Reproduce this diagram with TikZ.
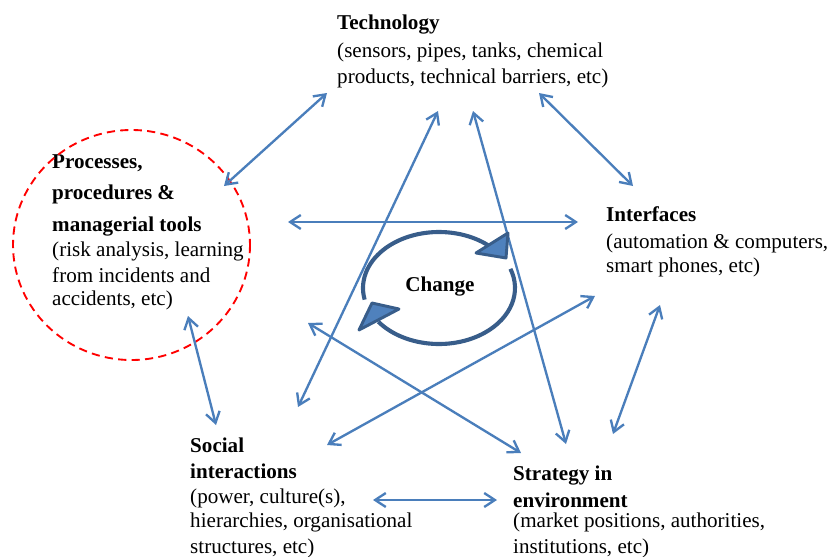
\documentclass[tikz,border=0pt]{standalone}
\usepackage{fontspec}
\setmainfont{Liberation Serif}
\usetikzlibrary{arrows.meta}
\definecolor{linkblue}{RGB}{74,126,187}
\definecolor{cycleblue}{RGB}{56,93,138}
\definecolor{cyclefill}{RGB}{79,129,189}

\begin{document}
\begin{tikzpicture}[x=0.03cm,y=-0.03cm,
        factor/.style={anchor=north west,inner sep=0pt,align=left,font=\fontsize{18}{22}\selectfont},
        link/.style={draw=linkblue,line width=2pt,{Straight Barb[length=3.2mm,width=4.2mm]}-{Straight Barb[length=3.2mm,width=4.2mm]}}]
        \useasboundingbox (0,0) rectangle (833,557);
        % the five factors
        \node[factor] (tech) at (337,15) {\textbf{Technology}\\[1.5pt](sensors, pipes, tanks, chemical\\products, technical barriers, etc)};
        \node[factor] (proc) at (52,154) {\textbf{Processes,}\\[5pt]\textbf{procedures \&}\\[5pt]\textbf{managerial tools}\\[-0.7pt](risk analysis, learning\\from incidents and\\[-2pt]accidents, etc)};
        \node[factor] (iface) at (606,206) {\textbf{Interfaces}\\[1pt](automation \& computers,\\[-1.5pt]smart phones, etc)};
        \node[factor] (social) at (190,438) {\textbf{Social}\\\textbf{interactions}\\[-0.7pt](power, culture(s),\\[-1.5pt]hierarchies, organisational\\structures, etc)};
        \node[factor] (strat) at (513,466) {\textbf{Strategy in}\\[1pt]\textbf{environment}\\[-5pt](market positions, authorities,\\institutions, etc)};
        \draw[red,line width=1.6pt,dash pattern=on 7pt off 4.5pt] (131.5,245) ellipse [x radius=118.5, y radius=115];

        % arrow ends
        \coordinate (tech-sw) at (327,93);   \coordinate (proc-ne) at (224,186);
        \coordinate (tech-se) at (539,93);   \coordinate (iface-nw) at (633,186);
        \coordinate (proc-e) at (288,222);   \coordinate (iface-w) at (578,222);
        \coordinate (proc-s) at (188,316);   \coordinate (social-n) at (216,425);
        \coordinate (iface-s) at (660,305);  \coordinate (strat-ne) at (613,434);
        \coordinate (social-e) at (373,500); \coordinate (strat-w) at (497,500);
        \coordinate (tech-s1) at (438,111);  \coordinate (social-ne) at (298,407);
        \coordinate (tech-s2) at (473,111);  \coordinate (strat-n) at (566,444);
        \coordinate (iface-sw) at (595,296); \coordinate (social-e2) at (327,445);
        \coordinate (proc-se) at (308,323);  \coordinate (strat-nw) at (521,453);

        \draw[link] (tech-sw) -- (proc-ne);
        \draw[link] (tech-se) -- (iface-nw);
        \draw[link] (proc-e) -- (iface-w);
        \draw[link] (proc-s) -- (social-n);
        \draw[link] (iface-s) -- (strat-ne);
        \draw[link] (social-e) -- (strat-w);
        \draw[link] (tech-s1) -- (social-ne);
        \draw[link] (tech-s2) -- (strat-n);
        \draw[link] (iface-sw) -- (social-e2);
        \draw[link] (proc-se) -- (strat-nw);

        % change cycle in the middle
        \fill[white] (439,288) ellipse [x radius=74, y radius=54];
        \draw[cycleblue,line width=3.5pt] (439,288) ++(-47:76 and 56) arc[start angle=-47, end angle=-192, x radius=76, y radius=56];
        \draw[cycleblue,line width=3.5pt] (439,288) ++(143:76 and 56) arc[start angle=143, end angle=-20, x radius=76, y radius=56];
        \filldraw[fill=cyclefill,draw=cycleblue,line width=2.5pt,line join=round] (508,233) -- (476,253) -- (506,258) -- cycle;
        \filldraw[fill=cyclefill,draw=cycleblue,line width=2.5pt,line join=round] (359,330) -- (372,303) -- (399,309) -- cycle;
        \node[font=\fontsize{18}{22}\selectfont\bfseries] (change) at (440,287) {Change};
    \end{tikzpicture}
\end{document}
